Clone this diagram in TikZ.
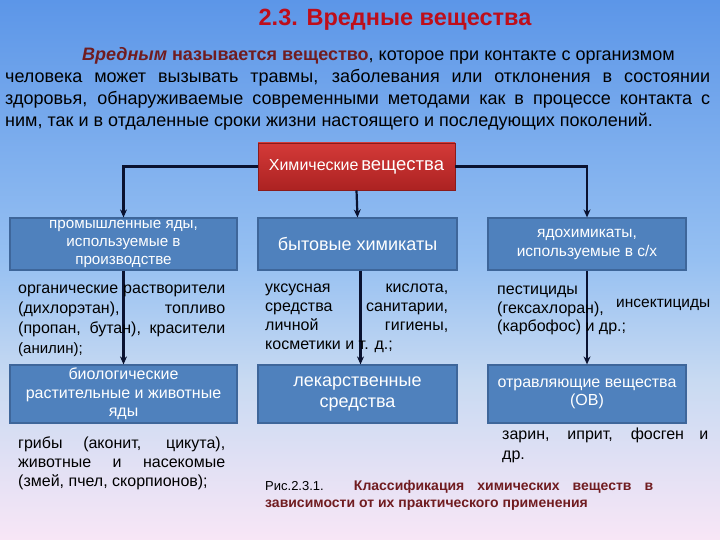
\documentclass[tikz,border=0pt]{standalone}
\usepackage{fontspec}
\setmainfont{Liberation Sans}
\usetikzlibrary{arrows.meta}
\definecolor{boxblue}{RGB}{79,129,189}
\definecolor{boxedge}{RGB}{62,102,154}
\definecolor{titlered}{RGB}{190,14,26}
\definecolor{darkred}{RGB}{112,28,32}
\definecolor{navy}{RGB}{10,18,48}
\definecolor{bgtop}{RGB}{92,150,232}
\definecolor{bgmid}{RGB}{150,192,242}
\definecolor{bglow}{RGB}{200,218,242}
\definecolor{bgbot}{RGB}{248,230,246}
\definecolor{redtop}{RGB}{212,58,56}
\definecolor{redbot}{RGB}{172,34,34}
\newcommand{\JL}[2]{\makebox[#1][s]{#2}}
\begin{document}
\begin{tikzpicture}[x=1pt,y=-1pt,
  bluebox/.style={draw=boxedge, line width=1.2pt, fill=boxblue, text=white, align=center, inner sep=1pt},
  conn/.style={draw=navy, line width=2.2pt, -{Stealth[length=8pt,width=7pt]}},
  bodytext/.style={align=left, inner sep=0pt, anchor=north west},
  paraline/.style={inner sep=0pt, anchor=base west, font=\fontsize{18}{20}\selectfont}
]
\useasboundingbox (0,0) rectangle (720,540);
\shade[top color=bgtop, bottom color=bgmid] (0,0) rectangle (720,260);
\shade[top color=bgmid, bottom color=bglow] (0,260) rectangle (720,380);
\shade[top color=bglow, bottom color=bgbot] (0,380) rectangle (720,540);

% title
\node[inner sep=0pt, text=titlered, font=\fontsize{23.5}{26}\selectfont\bfseries] (title) at (395,20) {2.3. Вредные вещества};

% paragraph
\node[paraline] (p1) at (82,61) {\textcolor{darkred}{\textbf{\textit{Вредным}} \textbf{называется вещество}}, которое при контакте с организмом};
\node[paraline] (p2) at (5,83) {\JL{705pt}{человека может вызывать травмы, заболевания или отклонения в состоянии}};
\node[paraline] (p3) at (5,105) {\JL{705pt}{здоровья, обнаруживаемые современными методами как в процессе контакта с}};
\node[paraline] (p4) at (5,127) {ним, так и в отдаленные сроки жизни настоящего и последующих поколений.};

% red box
\node[draw=redbot!80!black, line width=0.6pt, top color=redtop, bottom color=redbot, minimum width=197pt, minimum height=47pt, text=white, inner sep=0pt] (chem) at (356.5,166.5) {{\fontsize{16}{18}\selectfont Химические} {\fontsize{18.5}{20}\selectfont вещества}};

% first row
\node[bluebox, minimum width=227pt, minimum height=52pt, font=\fontsize{15.2}{18}\selectfont] (b1) at (123.5,244) {промышленные яды,\\используемые в\\производстве};
\node[bluebox, minimum width=199pt, minimum height=52pt, font=\fontsize{18}{20}\selectfont] (b2) at (357.5,244) {бытовые химикаты};
\node[bluebox, minimum width=198pt, minimum height=52pt, font=\fontsize{15.5}{19}\selectfont] (b3) at (587,244) {ядохимикаты,\\используемые в с/х};

% second row
\node[bluebox, minimum width=227pt, minimum height=58pt, font=\fontsize{16}{18.5}\selectfont] (c1) at (123.5,394) {биологические\\растительные и животные\\яды};
\node[bluebox, minimum width=199pt, minimum height=58pt, font=\fontsize{18}{21}\selectfont] (c2) at (357.5,394) {лекарственные\\средства};
\node[bluebox, minimum width=198pt, minimum height=58pt, font=\fontsize{16}{18.5}\selectfont] (c3) at (587,394) {\raisebox{-2pt}{отравляющие вещества}\\\raisebox{-2pt}{(ОВ)}};

% connectors
\draw[conn] (chem.west) -| (b1.north);
\draw[conn] (chem.east) -| (b3.north);
\draw[conn] (chem.south) -- (b2.north);
\draw[conn] (b1.south) -- (c1.north);
\draw[conn] ([xshift=3pt]b2.south) -- ([xshift=3pt]c2.north);
\draw[conn] (b3.south) -- (c3.north);

% text blocks
\node[bodytext, font=\fontsize{16}{20}\selectfont] (t1) at (18,285) {\JL{207pt}{органические растворители}\\\JL{207pt}{(дихлорэтан), топливо}\\\JL{207pt}{(пропан, бутан), красители}\\{\fontsize{15}{16}\selectfont(анилин);}};
\node[bodytext, font=\fontsize{16}{19}\selectfont] (t2) at (265,284) {\JL{183pt}{уксусная кислота,}\\\JL{183pt}{средства санитарии,}\\\JL{183pt}{личной гигиены,}\\косметики и т. д.;};
\node[bodytext, font=\fontsize{16}{18.5}\selectfont] (t3) at (497,286) {пестициды\\(гексахлоран),\\(карбофос) и др.;};
\node[inner sep=0pt, anchor=base west, font=\fontsize{15.5}{16}\selectfont] (t3b) at (616,307) {инсектициды};
\node[bodytext, font=\fontsize{16}{19}\selectfont] (t4) at (18,437) {\JL{207pt}{грибы (аконит, цикута),}\\\JL{207pt}{животные и насекомые}\\(змей, пчел, скорпионов);};
\node[bodytext, font=\fontsize{16}{20}\selectfont] (t5) at (502,428) {\JL{206pt}{зарин, иприт, фосген и}\\др.};

% caption
\node[inner sep=0pt, anchor=base west, font=\fontsize{13}{15}\selectfont] (cap1) at (265,490) {\JL{388pt}{Рис.2.3.1. {\fontsize{14}{15}\selectfont\textcolor{darkred}{\textbf{Классификация химических веществ в}}}}};
\node[inner sep=0pt, anchor=base west, font=\fontsize{14}{15}\selectfont\bfseries, text=darkred] (cap2) at (265,507) {зависимости от их практического применения};
\end{tikzpicture}
\end{document}
